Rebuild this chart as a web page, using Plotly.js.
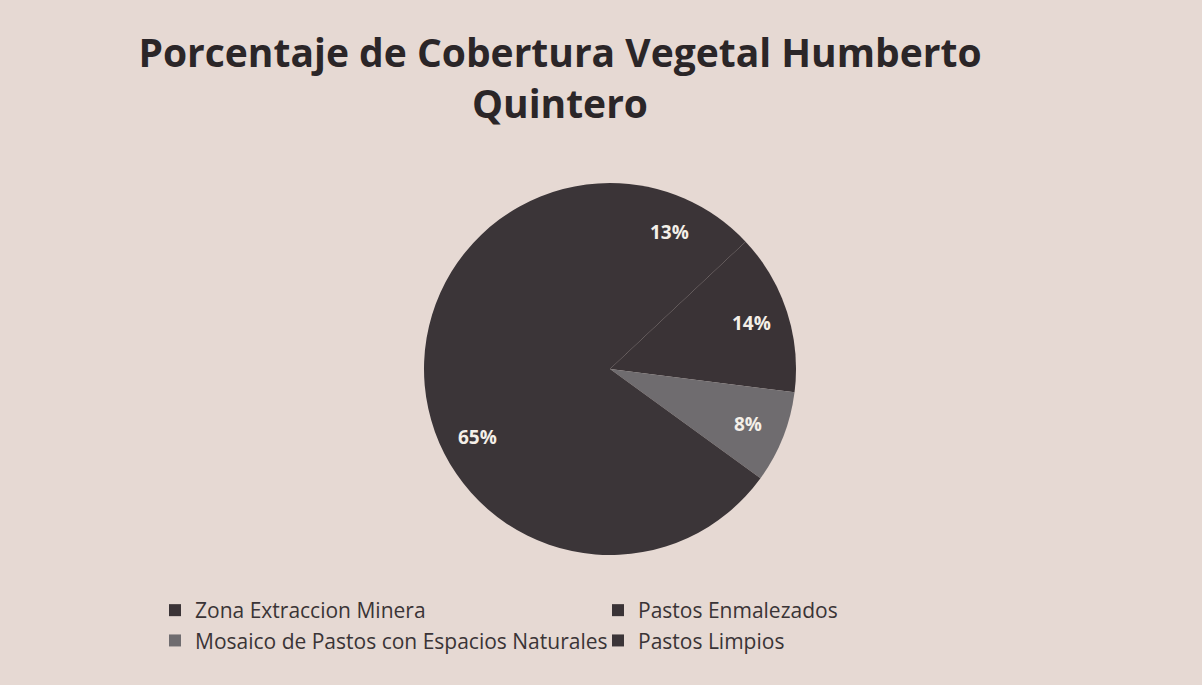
<!DOCTYPE html>
<html><head><meta charset="utf-8">
<script src="https://cdn.plot.ly/plotly-3.0.1.min.js"></script>
<style>html,body{margin:0;padding:0;background:#e7dad4;}</style>
</head><body>
<div id="chart" style="width:1202px;height:685px;"></div>
<script>
const categories = ["Zona Extraccion Minera", "Pastos Enmalezados", "Mosaico de Pastos con Espacios Naturales", "Pastos Limpios"];
const values = [13, 14, 8, 65];
const sliceColors = ["#3b3437", "#3a3336", "#6f6c6f", "#3b3538"];
const titleText = "Porcentaje de Cobertura Vegetal Humberto<br>Quintero";

const W = 1202, H = 685;
const pieDomain = {x: [424/W, 796/W], y: [1 - 556/H, 1 - 182/H]};

// percentage labels placed at 80% of the radius, at each slice's mid-angle
const total = values.reduce((a, b) => a + b, 0);
const cx = (pieDomain.x[0] + pieDomain.x[1]) / 2;
const cy = (pieDomain.y[0] + pieDomain.y[1]) / 2;
const rPx = (pieDomain.x[1] - pieDomain.x[0]) * W / 2;
let cum = 0;
const annotations = values.map(v => {
  const mid = (cum + v / 2) / total * 2 * Math.PI;
  cum += v;
  const rr = 0.8 * rPx;
  return {
    xref: "paper", yref: "paper",
    x: cx + rr * Math.sin(mid) / W,
    y: cy + rr * Math.cos(mid) / H,
    text: Math.round(v / total * 100) + "%",
    showarrow: false,
    xanchor: "center", yanchor: "middle",
    font: {family: "Open Sans, sans-serif", size: 19, color: "#f4efe8", weight: "bold"}
  };
});

const trace = {
  type: "pie",
  labels: categories,
  values: values,
  sort: false,
  direction: "clockwise",
  rotation: 0,
  marker: {colors: sliceColors, line: {width: 0}},
  textinfo: "none",
  hole: 0,
  domain: pieDomain
};
const layout = {
  width: W, height: H,
  paper_bgcolor: "#e6d9d3",
  plot_bgcolor: "#e6d9d3",
  margin: {l: 0, r: 0, t: 0, b: 0},
  title: {
    text: titleText,
    font: {family: "Open Sans, sans-serif", size: 39, color: "#2b2628", weight: "bold"},
    x: 560/W, xanchor: "center",
    y: 1 - 67/H, yanchor: "top"
  },
  annotations: annotations,
  showlegend: true,
  legend: {
    orientation: "h",
    x: 155/W, xanchor: "left",
    y: 1 - 590/H, yanchor: "top",
    entrywidth: 398, entrywidthmode: "pixels",
    font: {family: "Open Sans, sans-serif", size: 21, color: "#3a3436"},
    bgcolor: "rgba(0,0,0,0)",
    traceorder: "normal",
    itemwidth: 30
  }
};
Plotly.newPlot("chart", [trace], layout, {displayModeBar: false});
</script>
</body></html>
